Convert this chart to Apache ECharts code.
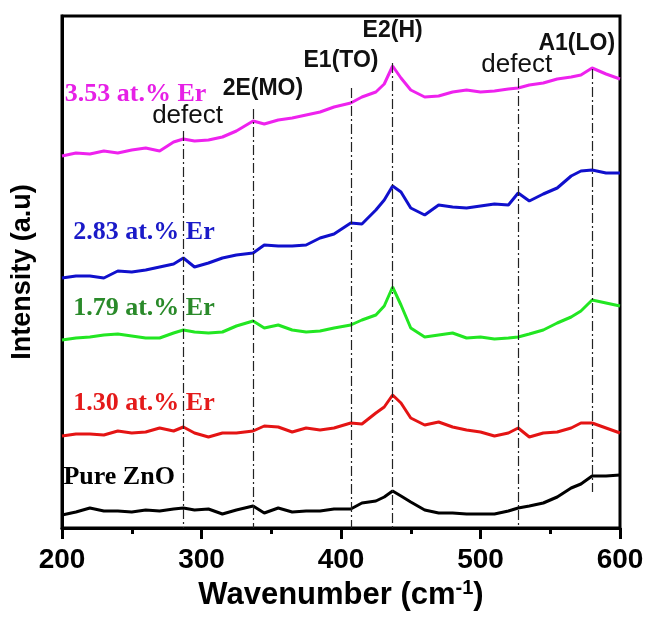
<!DOCTYPE html>
<html>
<head>
<meta charset="utf-8">
<title>Raman spectra</title>
<script src="https://cdn.jsdelivr.net/npm/echarts@6/dist/echarts.min.js"></script>
<style>
  html, body { margin: 0; padding: 0; background: #fff; }
  #main { width: 648px; height: 618px; }
</style>
</head>
<body>
<div id="main"></div>
<script>
// wavenumber grid (cm-1)
var wavenumber = [200, 210, 220, 230, 240, 250, 260, 270, 280, 287, 295, 305, 315, 325, 337, 345, 355, 365, 375, 385, 395, 407, 415, 425, 431, 437, 443, 450, 460, 470, 480, 490, 500, 510, 520, 527, 535, 545, 555, 565, 572, 580, 590, 600];

// stacked intensities (a.u.), offsets included
var pureZnO = [13, 16, 20, 17, 17, 16, 18, 17, 19, 20, 18, 19, 14, 18, 22, 15, 20, 16, 17, 17, 19, 19, 25, 27, 31, 37, 32, 26, 18, 15, 15, 14, 14, 14, 17, 20, 22, 25, 31, 40, 44, 52, 52, 53];
var er130 = [92, 94, 94, 93, 97, 95, 96, 100, 97, 101, 95, 91, 95, 95, 97, 102, 101, 96, 100, 98, 100, 105, 104, 115, 121, 133, 125, 110, 103, 106, 101, 98, 96, 92, 95, 100, 91, 95, 96, 100, 105, 105, 100, 95];
var er179 = [188, 190, 191, 193, 194, 192, 190, 190, 195, 198, 196, 195, 196, 202, 207, 200, 203, 198, 196, 197, 200, 203, 208, 213, 222, 241, 223, 200, 191, 193, 195, 190, 191, 189, 190, 191, 194, 198, 205, 211, 217, 228, 225, 222];
var er283 = [250, 252, 252, 250, 257, 256, 258, 261, 264, 270, 261, 265, 270, 273, 275, 283, 282, 282, 283, 290, 294, 305, 304, 318, 328, 342, 336, 320, 313, 323, 321, 320, 322, 324, 323, 335, 327, 334, 340, 352, 357, 358, 355, 355];
var er353 = [372, 375, 374, 377, 375, 378, 380, 377, 386, 389, 387, 388, 391, 397, 407, 404, 408, 410, 413, 416, 421, 425, 431, 436, 444, 462, 450, 438, 431, 432, 436, 438, 436, 437, 439, 440, 443, 445, 449, 451, 453, 460, 454, 449];

var sampleNames = ["Pure ZnO", "1.30 at.% Er", "1.79 at.% Er", "2.83 at.% Er", "3.53 at.% Er"];
var sampleData = [pureZnO, er130, er179, er283, er353];
var lineColors = ["#000000", "#e41414", "#22e622", "#1010cc", "#ee22ee"];
var nameColors = ["#000000", "#e41a1a", "#2a8a2a", "#1a1ac8", "#e620e6"];

// phonon modes: position, label, top and bottom of the guide line
var modePos = [287, 337, 407, 437, 527, 580];
var modeNames = ["defect", "2E(MO)", "E1(TO)", "E2(H)", "defect", "A1(LO)"];
var modeTop = [397, 419, 440, 465, 450, 459];
var modeBottom = [0, 0, 0, 0, 0, 36];

var xTicks = [200, 300, 400, 500, 600];

var chart = echarts.init(document.getElementById("main"));

function pairs(ys) {
  return wavenumber.map(function (x, i) { return [x, ys[i]]; });
}

// where the sample names and the mode names sit (data coords)
var nameAnchor = [[201, 51], [208, 125], [208, 220], [208, 296], [202, 434]];
var modeAnchor = [[290, 412], [344, 439], [400, 467], [437, 497], [526, 463], [569, 484]];

var series = [];

// dash-dot guide lines
series.push({
  type: "line",
  data: [],
  z: 1,
  markLine: {
    silent: true,
    symbol: ["none", "none"],
    label: { show: false },
    lineStyle: { color: "#222", width: 1.2, type: [10, 3, 2, 3] },
    data: modePos.map(function (x, i) {
      return [{ coord: [x, modeTop[i]] }, { coord: [x, modeBottom[i]] }];
    })
  },
  markPoint: {
    silent: true,
    symbolSize: 0,
    data: modeAnchor.map(function (c, i) {
      return {
        coord: c,
        label: {
          show: true,
          position: "inside",
          formatter: modeNames[i],
          color: "#111",
          fontFamily: "Liberation Sans, Arial",
          fontWeight: modeNames[i] == "defect" ? "normal" : "bold",
          fontSize: modeNames[i] == "defect" ? 26 : 23
        }
      };
    })
  }
});

for (var i = 0; i < sampleData.length; i++) {
  series.push({
    name: sampleNames[i],
    type: "line",
    z: 3,
    showSymbol: false,
    smooth: false,
    lineStyle: { color: lineColors[i], width: 3 },
    itemStyle: { color: lineColors[i] },
    data: pairs(sampleData[i]),
    markPoint: {
      silent: true,
      symbolSize: 0,
      data: [{
        coord: nameAnchor[i],
        label: {
          show: true,
          position: "inside",
          align: "left",
          formatter: sampleNames[i],
          color: nameColors[i],
          fontFamily: "Liberation Serif, Times New Roman",
          fontWeight: "bold",
          fontSize: 26
        }
      }]
    }
  });
}

var option = {
  animation: false,
  backgroundColor: "#fff",
  grid: {
    left: 62,
    right: 28,
    top: 16,
    bottom: 90,
    show: true,
    borderColor: "#000",
    borderWidth: 3
  },
  xAxis: {
    type: "value",
    min: 200,
    max: 600,
    interval: 100,
    name: "Wavenumber (cm{sup|-1})",
    nameLocation: "middle",
    nameGap: 50,
    nameTextStyle: {
      color: "#000",
      fontFamily: "Liberation Sans, Arial",
      fontWeight: "bold",
      fontSize: 31,
      rich: {
        sup: {
          fontFamily: "Liberation Sans, Arial",
          fontWeight: "bold",
          fontSize: 20,
          verticalAlign: "top",
          padding: [0, 0, 14, 0]
        }
      }
    },
    axisLine: { lineStyle: { color: "#000", width: 3 } },
    axisTick: { length: 11, lineStyle: { color: "#000", width: 3 } },
    minorTick: { show: true, splitNumber: 2, length: 6, lineStyle: { color: "#000", width: 3 } },
    splitLine: { show: false },
    axisLabel: {
      margin: 18,
      color: "#000",
      fontFamily: "Liberation Sans, Arial",
      fontWeight: "bold",
      fontSize: 28,
      formatter: function (v) { return xTicks.indexOf(v) >= 0 ? String(v) : ""; }
    }
  },
  yAxis: {
    type: "value",
    min: 0,
    max: 512,
    name: "Intensity (a.u)",
    nameLocation: "middle",
    nameGap: 26,
    nameTextStyle: {
      color: "#000",
      fontFamily: "Liberation Sans, Arial",
      fontWeight: "bold",
      fontSize: 27,
      padding: [0, 0, 0, 0]
    },
    axisLine: { show: true, lineStyle: { color: "#000", width: 3 } },
    axisTick: { show: false },
    axisLabel: { show: false },
    splitLine: { show: false }
  },
  series: series
};

chart.setOption(option);
</script>
</body>
</html>
